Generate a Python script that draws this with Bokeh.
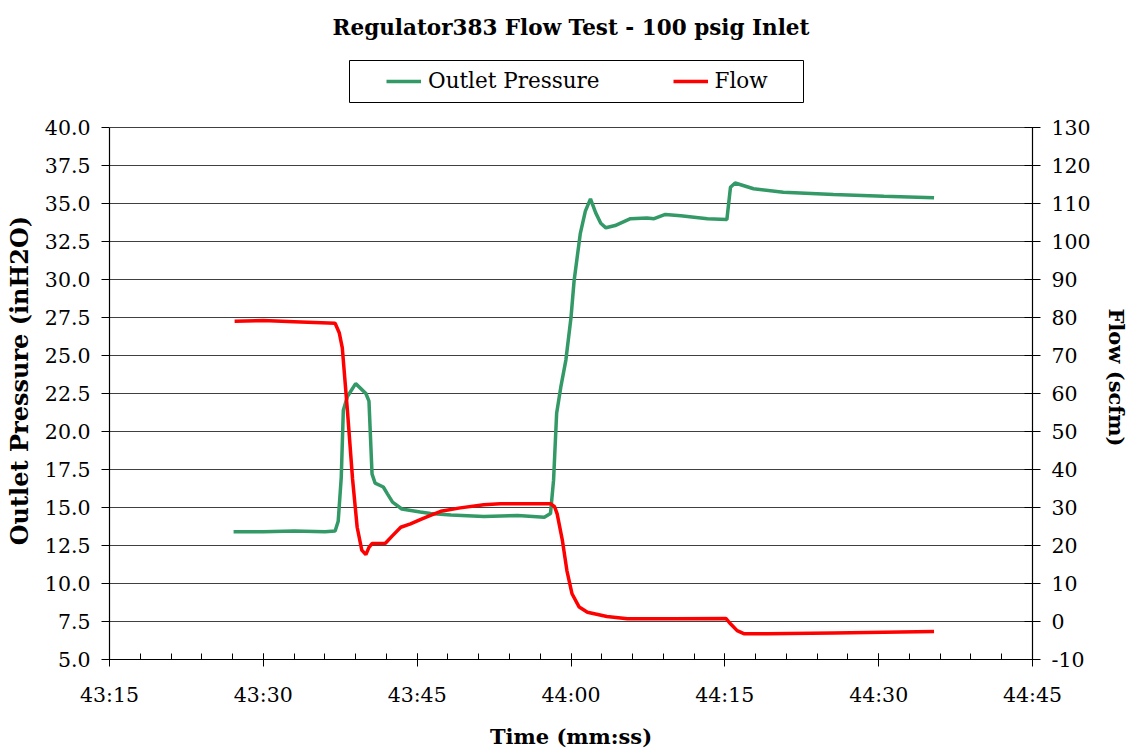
from bokeh.plotting import figure
from bokeh.models import (LinearAxis, Range1d, FixedTicker, NumeralTickFormatter,
                          Legend, LegendItem, BoxAnnotation)
from bokeh.embed import file_html
from bokeh.resources import INLINE

# ---- data (time in seconds of the hour; 2595 s = 43:15) ----
pressure_time = [2607.1, 2610.0, 2613.0, 2616.0, 2617.0, 2617.3, 2617.6, 2617.8, 2618.2, 2619.0,
                 2620.0, 2620.3, 2620.6, 2620.9, 2621.7, 2622.1, 2622.6, 2623.5, 2625.3, 2626.3,
                 2628.3, 2631.5, 2634.8, 2637.4, 2638.0, 2638.3, 2638.6, 2639.0, 2639.5, 2640.0,
                 2640.3, 2640.9, 2641.4, 2641.9, 2642.4, 2642.9, 2643.4, 2644.3, 2645.8, 2647.4,
                 2648.1, 2649.2, 2650.7, 2653.3, 2655.2, 2655.55, 2656.0, 2657.8, 2660.7, 2665.6,
                 2670.5, 2675.4]
pressure = [13.4, 13.4, 13.45, 13.4, 13.45, 14.1, 17.0, 21.4, 22.3, 23.15,
            22.5, 22.0, 17.2, 16.6, 16.35, 15.9, 15.35, 14.9, 14.7, 14.6,
            14.5, 14.4, 14.47, 14.36, 14.6, 16.8, 21.2, 22.9, 24.7, 27.5,
            29.9, 33.0, 34.5, 35.3, 34.4, 33.7, 33.4, 33.55, 34.0, 34.05,
            34.0, 34.28, 34.2, 34.0, 33.95, 36.07, 36.35, 35.97, 35.74, 35.59,
            35.48, 35.38]

flow_time = [2607.2, 2610.0, 2613.0, 2617.0, 2617.4, 2617.7, 2618.2, 2618.7, 2619.15, 2619.6,
             2620.0, 2620.3, 2620.6, 2621.9, 2622.6, 2623.4, 2624.35, 2625.3, 2626.3, 2627.3,
             2629.2, 2631.5, 2633.1, 2638.0, 2638.4, 2638.65, 2639.15, 2639.6, 2640.1, 2640.8,
             2641.6, 2643.5, 2645.5, 2650.0, 2655.1, 2655.55, 2656.2, 2656.85, 2659.1, 2665.6,
             2670.5, 2675.4]
flow = [79.0, 79.2, 78.9, 78.5, 76.0, 72.0, 55.5, 37.5, 24.8, 18.8,
        17.6, 19.5, 20.5, 20.6, 22.6, 24.8, 25.7, 26.8, 27.9, 29.0,
        29.9, 30.7, 31.0, 31.0, 30.2, 28.3, 21.5, 13.4, 7.3, 3.8,
        2.45, 1.3, 0.7, 0.7, 0.8, -0.6, -2.4, -3.2, -3.24, -3.0,
        -2.8, -2.6]

x_ticks = [2595, 2610, 2625, 2640, 2655, 2670, 2685]
x_tick_labels = ["43:15", "43:30", "43:45", "44:00", "44:15", "44:30", "44:45"]
x_minor_ticks = [2595 + 3 * i for i in range(31)]
left_ticks = [5.0, 7.5, 10.0, 12.5, 15.0, 17.5, 20.0, 22.5, 25.0, 27.5, 30.0, 32.5, 35.0, 37.5, 40.0]
right_ticks = [-10, 0, 10, 20, 30, 40, 50, 60, 70, 80, 90, 100, 110, 120, 130]
right_tick_labels = [str(v) for v in right_ticks]

GREEN = "#339966"
RED = "#FF0000"
FONT = "DejaVu Serif"
NBSP = "\u00a0"

# the frame is extended upward (to 45 / 150) so that the legend sits inside it;
# axes are bounded to the real scale ranges 5-40 and -10-130
p = figure(frame_width=923, frame_height=608, output_backend="svg", toolbar_location=None,
           x_range=Range1d(2595, 2685), y_range=Range1d(5, 45),
           min_border_left=109, min_border_right=92, min_border_top=51, min_border_bottom=87,
           background_fill_color="white", border_fill_color="white")
p.extra_y_ranges = {"flow": Range1d(-10, 150)}

p.title.text = "Regulator383 Flow Test - 100 psig Inlet"
p.title.align = "center"
p.title.text_font = FONT
p.title.text_font_size = "21.5px"
p.title.text_font_style = "bold"
p.title.text_color = "black"
p.title.standoff = 20
p.title.vertical_align = "top"

p.outline_line_color = None
p.xgrid.visible = False
p.ygrid.ticker = FixedTicker(ticks=left_ticks)
p.ygrid.grid_line_color = "#404040"
p.ygrid.grid_line_width = 1

# bottom axis
xa = p.xaxis[0]
xa.ticker = FixedTicker(ticks=x_ticks, minor_ticks=x_minor_ticks)
xa.major_label_overrides = {t: s for t, s in zip(x_ticks, x_tick_labels)}
xa.axis_label = "Time (mm:ss)"
# left axis
ya = p.yaxis[0]
ya.ticker = FixedTicker(ticks=left_ticks)
ya.formatter = NumeralTickFormatter(format="0.0")
ya.axis_label = "Outlet Pressure (inH2O)" + NBSP * 6
ya.bounds = (left_ticks[0], left_ticks[-1])
# right axis
ra = LinearAxis(y_range_name="flow", ticker=FixedTicker(ticks=right_ticks),
                axis_label=NBSP * 6 + "Flow (scfm)")
ra.major_label_overrides = {t: s for t, s in zip(right_ticks, right_tick_labels)}
ra.bounds = (right_ticks[0], right_ticks[-1])
p.add_layout(ra, "right")

for ax in (xa, ya, ra):
    ax.axis_line_color = "black"
    ax.axis_line_width = 1.2
    ax.major_tick_line_color = "black"
    ax.minor_tick_line_color = "black"
    ax.major_label_text_font = FONT
    ax.major_label_text_font_size = "20.5px"
    ax.major_label_text_color = "black"
    ax.axis_label_text_font = FONT
    ax.axis_label_text_font_size = "21px"
    ax.axis_label_text_font_style = "bold"
    ax.axis_label_text_color = "black"

ya.axis_label_text_font_size = "24px"

xa.major_tick_in = 6
xa.major_tick_out = 7
xa.minor_tick_in = 6
xa.minor_tick_out = 0
xa.major_label_standoff = 16
xa.axis_label_standoff = 14

ya.major_tick_in = 0
ya.major_tick_out = 8
ya.minor_tick_line_color = None
ya.major_label_standoff = 11
ya.axis_label_standoff = 8

ra.major_tick_in = 8
ra.major_tick_out = 8
ra.minor_tick_line_color = None
ra.major_label_standoff = 11
ra.axis_label_standoff = 10

g = p.line(pressure_time, pressure, line_color=GREEN, line_width=3.5)
r = p.line(flow_time, flow, line_color=RED, line_width=3.5, y_range_name="flow")

# legend frame (screen px relative to the frame's bottom-left corner)
box = BoxAnnotation(left=240, right=694, bottom=557, top=599,
                    left_units="screen", right_units="screen",
                    bottom_units="screen", top_units="screen",
                    fill_color="white", fill_alpha=1, line_color="black", line_width=1, line_alpha=1)
p.add_layout(box)

legend = Legend(items=[LegendItem(label="Outlet Pressure", renderers=[g]),
                       LegendItem(label="Flow", renderers=[r])],
                orientation="horizontal", location=(268, 557), margin=0,
                padding=9, spacing=73, glyph_width=35, glyph_height=20,
                label_standoff=7,
                border_line_alpha=0, background_fill_alpha=0,
                label_text_font=FONT, label_text_font_size="21.5px", label_text_color="black")
p.add_layout(legend, "center")

open("out.html", "w").write(file_html(p, INLINE))
